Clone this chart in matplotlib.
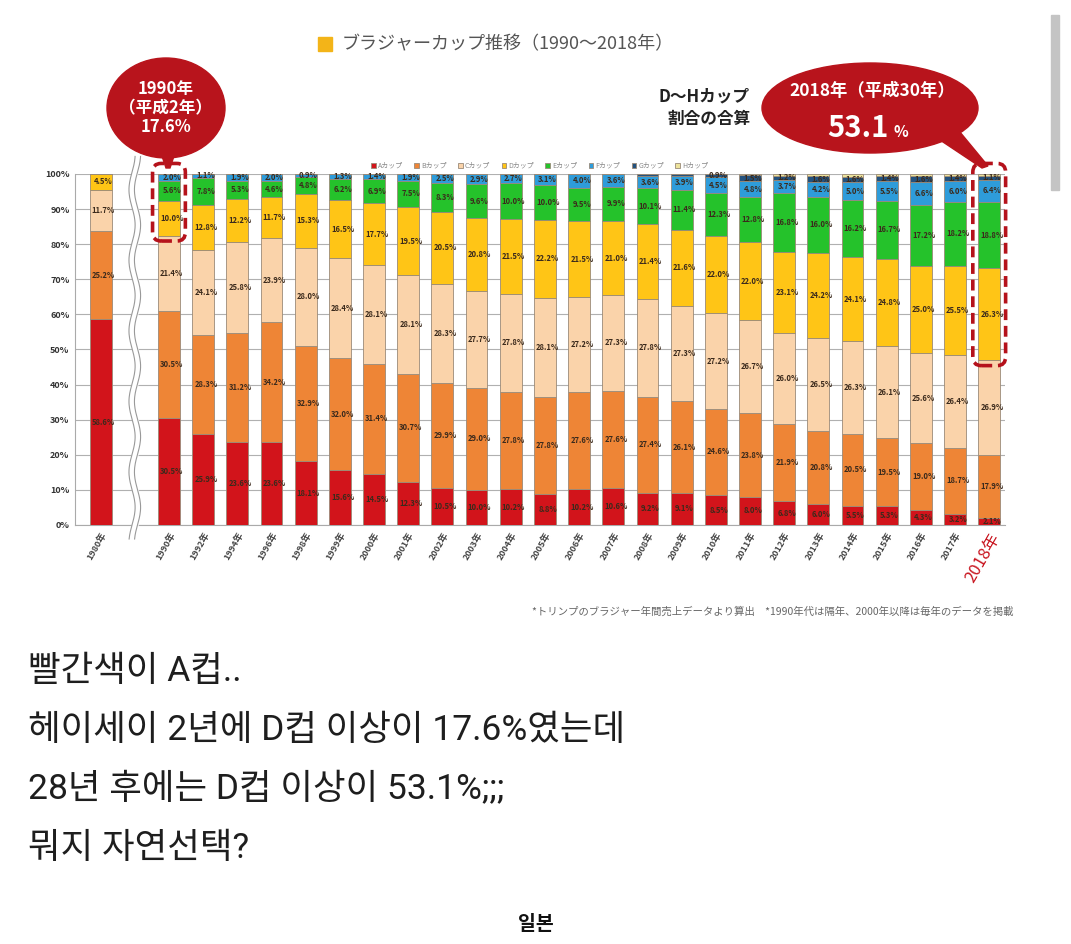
import numpy as np
import matplotlib
matplotlib.use('Agg')
from matplotlib import pyplot as plt
from matplotlib import patches

plt.rcParams['font.family'] = ['Noto Sans CJK JP', 'DejaVu Sans']

# ---- data ----
years = ['1980年', '1990年', '1992年', '1994年', '1996年', '1998年', '1999年',
         '2000年', '2001年', '2002年', '2003年', '2004年', '2005年', '2006年',
         '2007年', '2008年', '2009年', '2010年', '2011年', '2012年', '2013年',
         '2014年', '2015年', '2016年', '2017年', '2018年']
cups = ['Aカップ', 'Bカップ', 'Cカップ', 'Dカップ', 'Eカップ', 'Fカップ', 'Gカップ', 'Hカップ']

cup_a = [58.6, 30.5, 25.9, 23.6, 23.6, 18.1, 15.6, 14.5, 12.3, 10.5, 10.0, 10.2, 8.8,
         10.2, 10.6, 9.2, 9.1, 8.5, 8.0, 6.8, 6.0, 5.5, 5.3, 4.3, 3.2, 2.1]
cup_b = [25.2, 30.5, 28.3, 31.2, 34.2, 32.9, 32.0, 31.4, 30.7, 29.9, 29.0, 27.8, 27.8,
         27.6, 27.6, 27.4, 26.1, 24.6, 23.8, 21.9, 20.8, 20.5, 19.5, 19.0, 18.7, 17.9]
cup_c = [11.7, 21.4, 24.1, 25.8, 23.9, 28.0, 28.4, 28.1, 28.1, 28.3, 27.7, 27.8, 28.1,
         27.2, 27.3, 27.8, 27.3, 27.2, 26.7, 26.0, 26.5, 26.3, 26.1, 25.6, 26.4, 26.9]
cup_d = [4.5, 10.0, 12.8, 12.2, 11.7, 15.3, 16.5, 17.7, 19.5, 20.5, 20.8, 21.5, 22.2,
         21.5, 21.0, 21.4, 21.6, 22.0, 22.0, 23.1, 24.2, 24.1, 24.8, 25.0, 25.5, 26.3]
cup_e = [0, 5.6, 7.8, 5.3, 4.6, 4.8, 6.2, 6.9, 7.5, 8.3, 9.6, 10.0, 10.0,
         9.5, 9.9, 10.1, 11.4, 12.3, 12.8, 16.8, 16.0, 16.2, 16.7, 17.2, 18.2, 18.8]
cup_f = [0, 2.0, 1.1, 1.9, 2.0, 0.9, 1.3, 1.4, 1.9, 2.5, 2.9, 2.7, 3.1,
         4.0, 3.6, 3.6, 3.9, 4.5, 4.8, 3.7, 4.2, 5.0, 5.5, 6.6, 6.0, 6.4]
cup_g = [0, 0, 0, 0, 0, 0, 0, 0, 0, 0, 0, 0, 0,
         0, 0, 0.5, 0.6, 0.9, 1.5, 1.2, 1.6, 1.6, 1.4, 1.6, 1.4, 1.1]
cup_h = [0, 0, 0, 0, 0, 0, 0, 0, 0, 0, 0, 0, 0,
         0, 0, 0, 0, 0, 0.4, 0.5, 0.7, 0.8, 0.7, 0.7, 0.6, 0.5]

colors = ['#D2141B', '#EE8536', '#FAD3AA', '#FFC516', '#25C22B', '#2E9CDA', '#24527E', '#EDE39C']
series = [cup_a, cup_b, cup_c, cup_d, cup_e, cup_f, cup_g, cup_h]

# 1980 sits apart from the rest (axis break)
x = np.array([0] + list(range(2, 2 + len(years) - 1)), dtype=float)

fig = plt.figure(figsize=(10.71, 9.44), dpi=100)
fig.patch.set_facecolor('white')

ax = fig.add_axes([0.070, 0.4439, 0.868, 0.3718])
bottom = np.zeros(len(years))
for vals, col, name in zip(series, colors, cups):
    vals = np.array(vals)
    ax.bar(x, vals, width=0.64, bottom=bottom, color=col, edgecolor='#9a8a78',
           linewidth=0.6, label=name, zorder=3)
    for xi, b, v in zip(x, bottom, vals):
        if v >= 0.9:
            ax.text(xi + 0.08, b + v / 2, '%.1f%%' % v, ha='center', va='center',
                    fontsize=5.5, fontweight='bold', color='#3b2a1c', zorder=4)
    bottom += vals

ax.set_xlim(-0.75, 26.45)
ax.set_ylim(0, 100)
ax.set_yticks(np.arange(0, 101, 10))
ax.set_yticklabels(['%d%%' % v for v in range(0, 101, 10)], fontsize=6.5,
                   fontweight='bold', color='#333333')
ax.yaxis.grid(True, color='#b0b0b0', linewidth=0.8, zorder=0)
ax.tick_params(axis='both', length=0, pad=4)
for s in ['top', 'right']:
    ax.spines[s].set_visible(False)
ax.spines['left'].set_color('#aaaaaa')
ax.spines['bottom'].set_color('#aaaaaa')

ax.set_xticks(x)
ax.set_xticklabels(years, rotation=60, ha='right', rotation_mode='anchor',
                   fontsize=6.5, color='#444444', fontweight='bold')
last = ax.get_xticklabels()[-1]
last.set_fontsize(12)
last.set_fontweight('normal')
last.set_color('#C8141E')

# axis break (wavy double line)
yy = np.linspace(-4, 105, 300)
for off in (0.92, 1.08):
    ax.plot(off + 0.09 * np.sin(yy / 3.2), yy, color='#999999', lw=0.8,
            clip_on=False, zorder=5)
ax.fill_betweenx(yy, 0.92 + 0.09 * np.sin(yy / 3.2), 1.08 + 0.09 * np.sin(yy / 3.2),
                 color='white', zorder=4.5, clip_on=False)

# legend strip above the bars
ax.legend(ncol=8, loc='lower center', bbox_to_anchor=(0.5, 1.0), frameon=False,
          fontsize=5, handlelength=0.7, handleheight=0.7, columnspacing=1.6,
          handletextpad=0.3, labelcolor='#888888', borderaxespad=0.2)

# dashed highlight boxes
dash_col = '#B5121B'
for xi, lo in [(x[1], 100 - 17.6), (x[-1], 100 - 53.1)]:
    box = patches.FancyBboxPatch((xi - 0.48, lo - 1.5), 0.96, 100 - lo + 4.5,
                                 boxstyle='round,pad=0,rounding_size=0.25',
                                 fill=False, edgecolor=dash_col, linewidth=2.6,
                                 linestyle=(0, (3, 1.6)), clip_on=False, zorder=6,
                                 mutation_aspect=10)
    ax.add_patch(box)

# ---- overlay in pixel coordinates for titles, callouts and captions ----
ov = fig.add_axes([0, 0, 1, 1], zorder=10)
ov.set_xlim(0, 1071)
ov.set_ylim(944, 0)
ov.axis('off')
ov.patch.set_alpha(0)

ov.add_patch(patches.Rectangle((318, 37), 14, 14, color='#F3B418'))
ov.text(342, 44, 'ブラジャーカップ推移（1990～2018年）', fontsize=13, color='#555555',
        va='center', ha='left')

red = '#B8141C'
# left callout
ov.add_patch(patches.Polygon([[160, 150], [176, 150], [170, 168], [166, 168]], color=red))
ov.add_patch(patches.Ellipse((166, 108), 118, 100, color=red))
ov.text(166, 108, '1990年\n（平成2年）\n17.6%', ha='center', va='center', color='white',
        fontsize=12, fontweight='bold', linespacing=1.1)

# right callout
ov.add_patch(patches.Polygon([[925, 130], [950, 120], [988, 166], [982, 168]], color=red))
ov.add_patch(patches.Ellipse((870, 108), 216, 90, color=red))
ov.text(872, 91, '2018年（平成30年）', ha='center', va='center', color='white',
        fontsize=12.5, fontweight='bold')
ov.text(858, 128, '53.1', ha='center', va='center', color='white',
        fontsize=21, fontweight='bold')
ov.text(901, 132, '%', ha='center', va='center', color='white',
        fontsize=11, fontweight='bold')

ov.text(750, 108, 'D～Hカップ\n割合の合算', ha='right', va='center', color='#222222',
        fontsize=12, fontweight='bold', linespacing=1.3)

ov.text(1014, 612, '*トリンプのブラジャー年間売上データより算出　*1990年代は隔年、2000年以降は毎年のデータを掲載',
        ha='right', va='center', fontsize=7.5, color='#666666')

# scrollbar remnant on the right
ov.add_patch(patches.Rectangle((1051, 15), 8, 175, color='#c4c4c4'))

kr = ['Roboto', 'Noto Sans CJK KR', 'DejaVu Sans']
lines = ['빨간색이 A컵..', '헤이세이 2년에 D컵 이상이 17.6%였는데',
         '28년 후에는 D컵 이상이 53.1%;;;', '뭐지 자연선택?']
for i, t in enumerate(lines):
    ov.text(28, 681 + i * 59, t, family=kr, fontsize=25.5, color='#1e1e1e',
            va='baseline', ha='left')
ov.text(536, 924, '일본', family=kr, fontsize=14, fontweight='bold', color='#111111',
        ha='center', va='center')

fig.savefig('out.png', dpi=100, facecolor='white')
